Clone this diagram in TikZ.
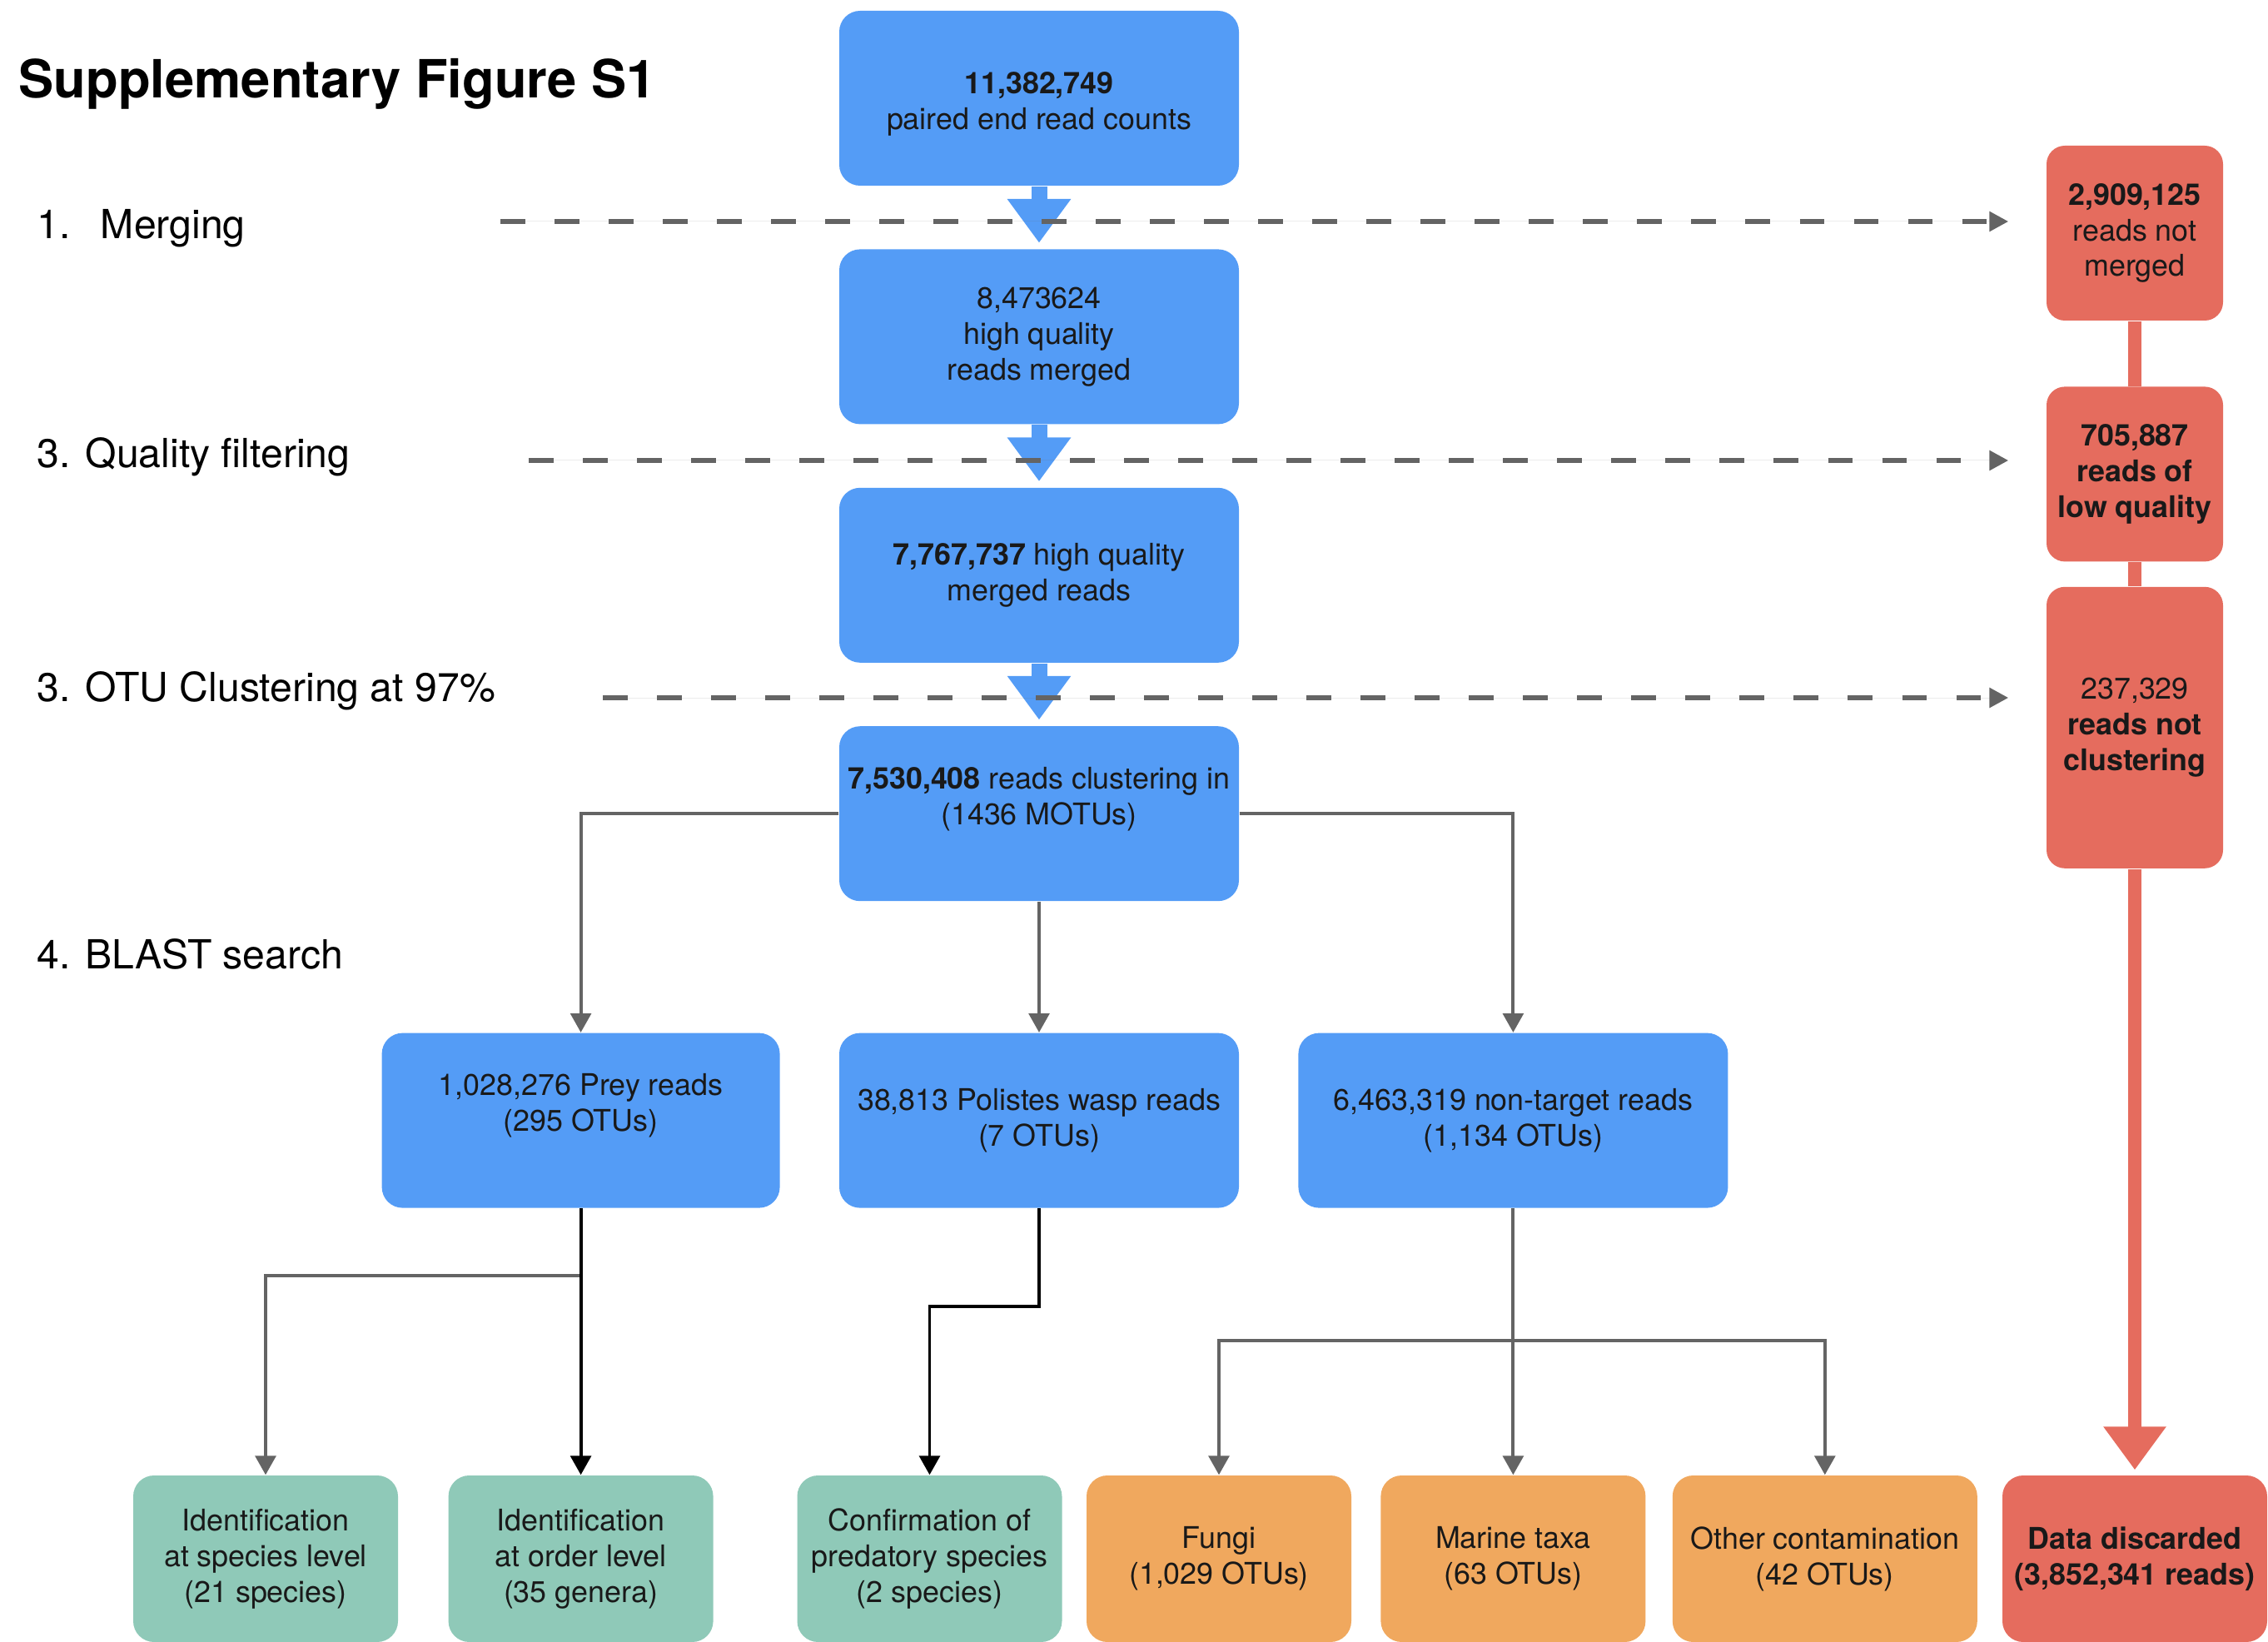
\documentclass[tikz,border=0pt]{standalone}
\usepackage{fontspec}
\setmainfont{TeX Gyre Heros}
\usepackage{tikz}
\usetikzlibrary{arrows.meta,positioning,calc}
\definecolor{boxblue}{RGB}{84,156,246}
\definecolor{boxred}{RGB}{229,108,94}
\definecolor{boxgreen}{RGB}{143,201,184}
\definecolor{boxorange}{RGB}{240,168,94}
\definecolor{linegray}{RGB}{100,100,100}

\begin{document}
\begin{tikzpicture}[>=Latex,node distance=0.75cm]
  \tikzstyle{flow}=[rounded corners=0.25cm,align=center,inner sep=1pt,font=\fontsize{10.2}{12.2}\selectfont,text=black!90]
  \tikzstyle{blubox}=[flow,fill=boxblue,minimum width=4.8cm,minimum height=2.1cm]
  \tikzstyle{redbox}=[flow,fill=boxred,rounded corners=0.22cm,minimum width=2.12cm,minimum height=2.1cm]
  \tikzstyle{endbox}=[flow,minimum width=3.18cm,minimum height=2.0cm]
  \tikzstyle{stage}=[anchor=base west,inner sep=0pt,font=\fontsize{13.7}{16}\selectfont]
  \tikzstyle{conn}=[draw=linegray,line width=1.1pt,-{Triangle[width=7pt,length=6.5pt]}]
  \tikzstyle{blk}=[conn,draw=black]
  \tikzstyle{dashl}=[draw=linegray,line width=1.9pt,dash pattern=on 8.5pt off 10pt,-{Triangle[width=6.5pt,length=6.5pt]},fill=linegray]
  \tikzstyle{fatblue}=[draw=boxblue,line width=5.4pt,-{Triangle[width=20.8pt,length=15pt]}]
  \tikzstyle{fatred}=[draw=boxred,line width=4.6pt]
  \useasboundingbox (0,0) rectangle (27.24,-19.72);

  % title and stages
  \node[anchor=base west,inner sep=0pt,font=\fontsize{18}{20}\selectfont\bfseries] (title) at (0.22,-1.18) {Supplementary Figure S1};
  \node[stage] (st1) at (0.44,-2.87) {1.\hspace{0.75em}Merging};
  \node[stage] (st2) at (0.44,-5.62) {3. Quality filtering};
  \node[stage] (st3) at (0.44,-8.43) {3. OTU Clustering at 97\%};
  \node[stage] (st4) at (0.44,-11.63) {4. BLAST search};

  % main column
  \node[blubox] (b1) at (12.48,-1.18) {\mbox{}\\[-1pt]\textbf{11,382,749}\\paired end read counts};
  \node[blubox,below=of b1] (b2) {8,473624\\high quality\\reads merged};
  \node[blubox,below=of b2] (b3) {\textbf{7,767,737} high quality\\merged reads};
  \node[blubox,below=of b3] (b4) {\textbf{7,530,408} reads clustering in\\(1436 MOTUs)\\~};

  % BLAST results
  \node[blubox,below=1.57cm of b4] (pol) {38,813 Polistes wasp reads\\(7 OTUs)};
  \node[blubox,left=0.7cm of pol,minimum width=4.78cm] (prey) {1,028,276 Prey reads\\(295 OTUs)\\~};
  \node[blubox,right=0.7cm of pol,minimum width=5.16cm] (nt) {6,463,319 non-target reads\\(1,134 OTUs)};

  % discarded reads
  \node[redbox] (r1) at (25.64,-2.80) {\textbf{2,909,125}\\reads not\\merged};
  \node[redbox,below=0.78cm of r1] (r2) {\textbf{705,887}\\\textbf{reads of}\\\textbf{low quality}};
  \node[redbox,below=0.29cm of r2,minimum height=3.38cm] (r3) {237,329\\\textbf{reads not}\\\textbf{clustering}};

  % final categories
  \node[endbox,fill=boxgreen] (g1) at (3.19,-18.72) {Identification\\at species level\\(21 species)};
  \node[endbox,fill=boxgreen] (g2) at (prey |- g1) {Identification\\at order level\\(35 genera)};
  \node[endbox,fill=boxgreen] (g3) at (11.165,-18.72) {Confirmation of\\predatory species\\(2 species)};
  \node[endbox,fill=boxorange] (o2) at (nt |- g1) {Marine taxa\\(63 OTUs)};
  \node[endbox,fill=boxorange,left=0.34cm of o2] (o1) {Fungi\\(1,029 OTUs)};
  \node[endbox,fill=boxorange,right=0.31cm of o2,minimum width=3.66cm] (o3) {Other contamination\\(42 OTUs)};
  \node[endbox,fill=boxred] (dis) at (r3 |- g1) {\textbf{Data discarded}\\\textbf{(3,852,341 reads)}};

  \draw[fatred] (r1) -- (r2);
  \draw[fatred] (r2) -- (r3);
  \draw[fatred,-{Triangle[width=20.5pt,length=14.8pt]},shorten >=1.7pt] (r3) -- (dis);

  \draw[fatblue,shorten >=2pt] (b1) -- (b2);
  \draw[fatblue,shorten >=2pt] (b2) -- (b3);
  \draw[fatblue,shorten >=2pt] (b3) -- (b4);

  % filtering steps
  \coordinate (m1) at (6.01,-2.66);
  \coordinate (m2) at (6.35,-5.53);
  \coordinate (m3) at (7.24,-8.38);
  \draw[dashl,shorten >=0.45cm] (m1) -- (m1 -| r1.west);
  \draw[dashl,shorten >=0.45cm] (m2) -- (m2 -| r2.west);
  \draw[dashl,shorten >=0.45cm] (m3) -- (m3 -| r3.west);

  % BLAST split
  \draw[conn] (b4.west) -| (prey.north);
  \draw[conn] (b4) -- (pol);
  \draw[conn] (b4.east) -| (nt.north);

  \draw[conn] (prey.south) -- ++(0,-0.81) coordinate (pj) -| (g1.north);
  \draw[blk] (prey) -- (g2);
  \draw[blk] (pol.south) -- ++(0,-1.18) -| (g3.north);

  \draw[conn] (nt.south) -- ++(0,-1.59) coordinate (nj) -| (o1.north);
  \draw[conn] (nj) -| (o3.north);
  \draw[conn] (nt) -- (o2);
\end{tikzpicture}
\end{document}
